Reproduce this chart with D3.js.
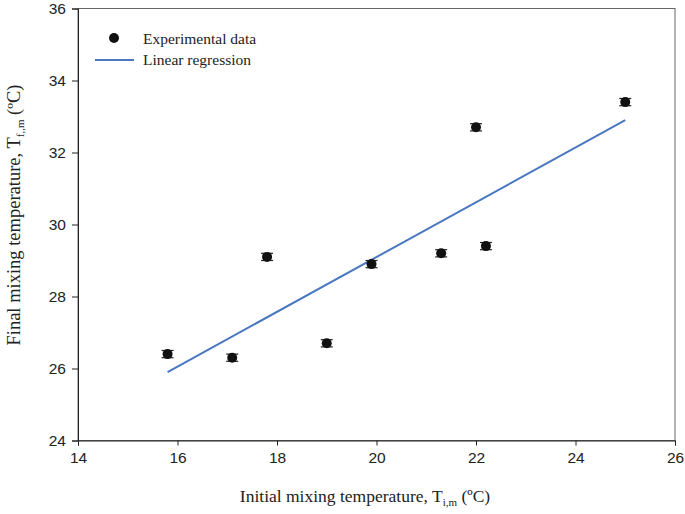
<!DOCTYPE html>
<html><head><meta charset="utf-8">
<script src="https://cdn.jsdelivr.net/npm/d3@7"></script>
<style>body{margin:0;background:#fff}</style>
</head><body>
<svg id="c" width="685" height="514"></svg>
<script>
const initialTemp = [15.8, 17.1, 17.8, 19.0, 19.9, 21.3, 22.0, 22.2, 25.0];
const finalTemp   = [26.4, 26.3, 29.1, 26.7, 28.9, 29.2, 32.7, 29.4, 33.4];
const errBar      = [0.1, 0.1, 0.1, 0.1, 0.1, 0.1, 0.1, 0.1, 0.1];
const regX = [15.8, 25.0];
const regY = [25.9, 32.9];
const xTicks = [14, 16, 18, 20, 22, 24, 26];
const yTicks = [24, 26, 28, 30, 32, 34, 36];

const svg = d3.select("#c");
const m = {l:78, r:675, t:8.5, b:440.5};
const x = d3.scaleLinear().domain([14,26]).range([m.l, m.r]);
const y = d3.scaleLinear().domain([24,36]).range([m.b, m.t]);
const serif = "'Liberation Serif','Times New Roman',serif";
const sans = "'Liberation Sans',Arial,sans-serif";

// frame
svg.append("rect").attr("x",m.l).attr("y",m.t).attr("width",m.r-m.l).attr("height",m.b-m.t)
  .attr("fill","none").attr("stroke","#666").attr("stroke-width",1);

const xa = svg.append("g").attr("transform",`translate(0,${m.b})`)
  .call(d3.axisBottom(x).tickValues(xTicks).tickSizeOuter(0).tickSize(5).tickPadding(6));
const ya = svg.append("g").attr("transform",`translate(${m.l},0)`)
  .call(d3.axisLeft(y).tickValues(yTicks).tickSizeOuter(0).tickSize(6).tickPadding(6));
[xa,ya].forEach(a=>{
  a.select(".domain").attr("stroke","#222");
  a.selectAll(".tick line").attr("stroke","#222");
  a.selectAll("text").attr("font-family",sans).attr("font-size",15.5).attr("fill","#222");
});

// regression line
svg.append("path").datum(regX.map((v,i)=>[v,regY[i]]))
  .attr("d", d3.line().x(d=>x(d[0])).y(d=>y(d[1])))
  .attr("fill","none").attr("stroke","#4a78c0").attr("stroke-width",2);

// error bars
const pts = initialTemp.map((v,i)=>({x:v,y:finalTemp[i],e:errBar[i]}));
const eg = svg.append("g").attr("stroke","#222").attr("stroke-width",1.2);
pts.forEach(p=>{
  eg.append("line").attr("x1",x(p.x)).attr("x2",x(p.x)).attr("y1",y(p.y+p.e)).attr("y2",y(p.y-p.e));
  eg.append("line").attr("x1",x(p.x)-6).attr("x2",x(p.x)+6).attr("y1",y(p.y-p.e)).attr("y2",y(p.y-p.e));
  eg.append("line").attr("x1",x(p.x)-6).attr("x2",x(p.x)+6).attr("y1",y(p.y+p.e)).attr("y2",y(p.y+p.e));
});
svg.append("g").selectAll("circle").data(pts).join("circle")
  .attr("cx",d=>x(d.x)).attr("cy",d=>y(d.y)).attr("r",5).attr("fill","#111");

// legend
svg.append("circle").attr("cx",114).attr("cy",38).attr("r",5).attr("fill","#111");
svg.append("text").attr("x",143).attr("y",44).attr("font-family",serif).attr("font-size",15.5).attr("fill","#222").text("Experimental data");
svg.append("line").attr("x1",95).attr("x2",134).attr("y1",60).attr("y2",60).attr("stroke","#4a78c0").attr("stroke-width",2);
svg.append("text").attr("x",143).attr("y",65).attr("font-family",serif).attr("font-size",15.5).attr("fill","#222").text("Linear regression");

// axis titles
const xt = svg.append("text").attr("x",365).attr("y",502).attr("text-anchor","middle")
  .attr("font-family",serif).attr("font-size",17.5).attr("fill","#222");
xt.append("tspan").text("Initial mixing temperature, T");
xt.append("tspan").attr("font-size",11).attr("dy",4).text("i,m");
xt.append("tspan").attr("dy",-4).text(" (ºC)");

const yt = svg.append("text").attr("transform","translate(20,215) rotate(-90)").attr("text-anchor","middle")
  .attr("font-family",serif).attr("font-size",18.5).attr("fill","#222");
yt.append("tspan").text("Final mixing temperature, T");
yt.append("tspan").attr("font-size",11).attr("dy",4).text("f,,m");
yt.append("tspan").attr("dy",-4).text(" (ºC)");
</script>
</body></html>
